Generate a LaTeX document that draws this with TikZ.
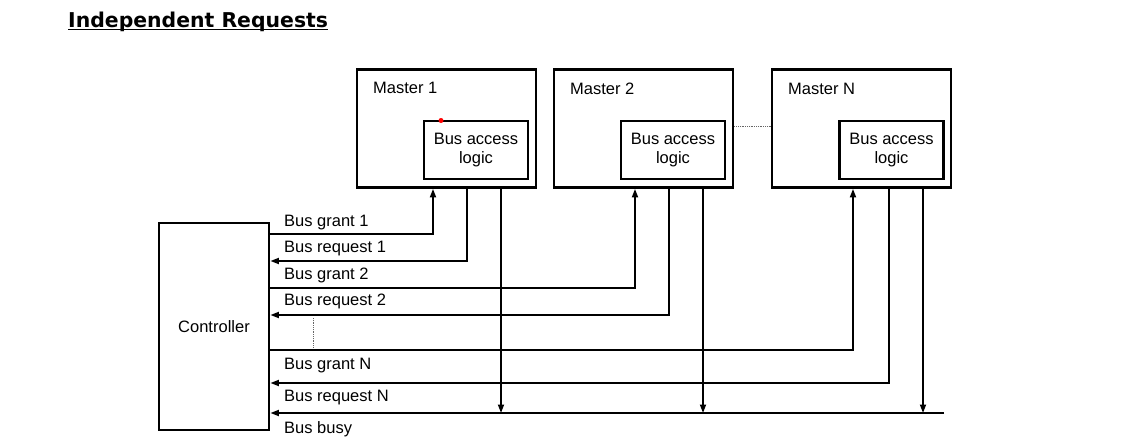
\documentclass[tikz,border=0pt]{standalone}
\usepackage{fontspec}
\setmainfont{Liberation Sans}
\newfontfamily\titlefont{DejaVu Sans}
\usetikzlibrary{arrows.meta}
\begin{document}
\begin{tikzpicture}[x=1pt,y=-1pt,
  box/.style={draw,line width=2.8pt,inner sep=0pt},
  master/.style={box,minimum width=179pt,minimum height=118pt},
  ibox/.style={draw,line width=2.6pt,inner sep=0pt,minimum width=104pt,minimum height=58pt,align=center,font=\fontsize{16.5}{19.5}\selectfont},
  wire/.style={line width=1.7pt},
  arr/.style={wire,-{Triangle[length=8.5pt,width=6pt]}},
  lbl/.style={anchor=west,inner sep=0pt,font=\fontsize{16.5}{19}\selectfont},
  dots/.style={densely dotted,line width=0.8pt,black!60}]

\useasboundingbox[fill=white] (0,0) rectangle (1136,442);

% title
\node[anchor=base west,inner sep=0pt,font=\titlefont\bfseries\fontsize{20.4}{23}\selectfont] (title) at (68,27) {Independent Requests};
\draw[line width=1pt] ([yshift=-2.5pt]title.base west) -- ([yshift=-2.5pt]title.base east);

% masters
\node[master] (m1) at (446.5,128.5) {};
\node[master] (m2) at (643.5,128.5) {};
\node[master] (mN) at (861.5,128.5) {};
\node[lbl] (t1) at (373,88) {Master 1};
\node[lbl] (t2) at (570,89) {Master 2};
\node[lbl] (tN) at (788,89) {Master N};
\node[ibox] (b1) at (476,150) {Bus access\\logic};
\node[ibox] (b2) at (673,150) {Bus access\\logic};
\node[ibox] (bN) at (891.5,150) {Bus access\\logic};
\fill[red] (441,120.5) circle (2.5pt);
\draw[dots] ([yshift=2.5pt]m2.east) -- ([yshift=2.5pt]mN.west);

% controller
\node[box,minimum width=110pt,minimum height=207pt,font=\fontsize{16.5}{19}\selectfont] (ctrl) at (214,326.5) {Controller};

% levels and ports
\coordinate (yg1) at (0,234);
\coordinate (yr1) at (0,261);
\coordinate (yg2) at (0,288);
\coordinate (yr2) at (0,315);
\coordinate (ygN) at (0,350);
\coordinate (yrN) at (0,383);
\coordinate (yb) at (0,413);
\coordinate (p1g) at (433,0);
\coordinate (p1r) at (467,0);
\coordinate (p1b) at (501,0);
\coordinate (p2g) at (635,0);
\coordinate (p2r) at (669,0);
\coordinate (p2b) at (703,0);
\coordinate (pNg) at (853,0);
\coordinate (pNr) at (889,0);
\coordinate (pNb) at (923,0);
\coordinate (bend) at (944,413);

% grants
\draw[arr] (ctrl.east |- yg1) -| (m1.south -| p1g);
\draw[arr] (ctrl.east |- yg2) -| (m2.south -| p2g);
\draw[arr] (ctrl.east |- ygN) -| (mN.south -| pNg);
% requests
\draw[arr] (m1.south -| p1r) |- (ctrl.east |- yr1);
\draw[arr] (m2.south -| p2r) |- (ctrl.east |- yr2);
\draw[arr] (mN.south -| pNr) |- (ctrl.east |- yrN);
% busy
\draw[arr] (bend) -- (ctrl.east |- yb);
\draw[arr] (m1.south -| p1b) -- (p1b |- yb);
\draw[arr] (m2.south -| p2b) -- (p2b |- yb);
\draw[arr] (mN.south -| pNb) -- (pNb |- yb);

% dotted continuation
\coordinate (dv1) at (313,318);
\coordinate (dv2) at (313,347);
\draw[dots] (dv1) -- (dv2);

% labels
\node[lbl] (lg1) at (284,222.5) {Bus grant 1};
\node[lbl] (lr1) at (284,249) {Bus request 1};
\node[lbl] (lg2) at (284,275.5) {Bus grant 2};
\node[lbl] (lr2) at (284,301.5) {Bus request 2};
\node[lbl] (lgN) at (284,366) {Bus grant N};
\node[lbl] (lrN) at (284,398) {Bus request N};
\node[lbl] (lb) at (284,429) {Bus busy};
\end{tikzpicture}
\end{document}
